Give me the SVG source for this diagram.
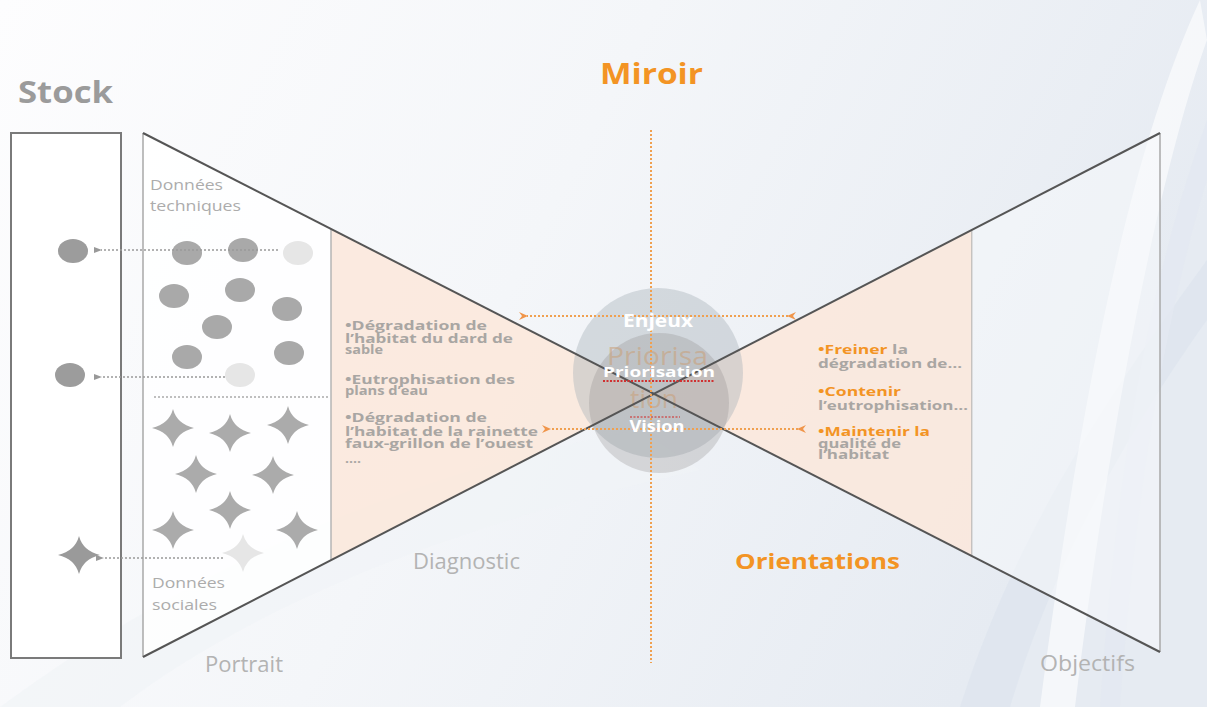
<svg xmlns="http://www.w3.org/2000/svg" width="1207" height="707" viewBox="0 0 1207 707">
<defs>
<linearGradient id="bg" x1="0" y1="0" x2="1" y2="0.3">
<stop offset="0" stop-color="#fdfdfe"/>
<stop offset="0.5" stop-color="#f4f6f9"/>
<stop offset="1" stop-color="#e6ebf2"/>
</linearGradient>
<path id="star" d="M0,-19 Q4,-4 21,0 Q4,4 0,19 Q-4,4 -21,0 Q-4,-4 0,-19Z"/>
<marker id="ga" markerWidth="8" markerHeight="8" refX="1" refY="4" orient="auto" markerUnits="userSpaceOnUse">
<path d="M8,1 L0,4 L8,7Z" fill="#999"/>
</marker>
<marker id="oaL" markerWidth="10" markerHeight="10" refX="1" refY="5" orient="auto" markerUnits="userSpaceOnUse">
<path d="M9,1 L0,5 L9,9 L6,5Z" fill="#f0954a"/>
</marker>
<marker id="oaR" markerWidth="10" markerHeight="10" refX="9" refY="5" orient="auto" markerUnits="userSpaceOnUse">
<path d="M1,1 L10,5 L1,9 L4,5Z" fill="#f0954a"/>
</marker>
<style>
.edge{stroke:#555;stroke-width:2;fill:none}
.pink{fill:#fbe8da;fill-opacity:0.85}
.dot{fill:#a9a9a9}
.dotS{fill:#9c9c9c}
.dotL{fill:#e6e6e6}
.garrow{stroke:#999;stroke-width:1.5;stroke-dasharray:2 2;fill:none}
.oline{stroke:#f0a050;stroke-width:2;stroke-dasharray:2 2;fill:none}
.h{font-family:"Open Sans","DejaVu Sans",sans-serif;font-weight:700}
.l{font-family:"Open Sans","DejaVu Sans",sans-serif;font-weight:400}
.g{fill:#a9a6a3}
.o{fill:#f39424}
.lst{font-family:"Open Sans","DejaVu Sans",sans-serif;font-weight:700;font-size:12.5px}
</style>
</defs>

<g id="background">
<rect x="0" y="0" width="1207" height="707" fill="url(#bg)"/>
<path d="M1207,260 C1120,380 1020,520 960,707 L1010,707 C1060,540 1150,400 1207,320Z" fill="#dde4ee" opacity="0.7"/>
<path d="M1200,0 C1130,150 1080,400 1040,707 L1075,707 C1110,420 1160,170 1207,40Z" fill="#ffffff" opacity="0.6"/>
<path d="M1207,120 C1160,250 1120,420 1100,707 L1120,707 C1140,430 1180,270 1207,180Z" fill="#e3e9f1" opacity="0.8"/>
<path d="M0,707 C200,560 420,470 640,430 L700,470 C470,520 260,600 120,707Z" fill="#f0f3f7" opacity="0.6"/>
</g>

<g id="stock">
<rect x="11" y="133" width="110" height="525" fill="#ffffff" stroke="#7a7a7a" stroke-width="2"/>
<text class="h" x="18" y="103" font-size="30" fill="#9b9b9b" textLength="95" lengthAdjust="spacingAndGlyphs">Stock</text>
<ellipse class="dotS" cx="73" cy="251" rx="15" ry="12"/>
<ellipse class="dotS" cx="70" cy="375" rx="15" ry="12"/>
<use href="#star" x="79" y="555" fill="#9a9a9a"/>
</g>

<g id="portrait">
<polygon points="143,133 331,229 331,560 143,657" fill="#ffffff" fill-opacity="0.85"/>
<line x1="143" y1="133" x2="143" y2="657" stroke="#a8a8a8" stroke-width="1.5"/>
<text class="l" x="150" y="190" font-size="14" fill="#acacac" textLength="73" lengthAdjust="spacingAndGlyphs">Données</text>
<text class="l" x="150" y="211" font-size="14" fill="#acacac" textLength="91" lengthAdjust="spacingAndGlyphs">techniques</text>
<ellipse class="dot" cx="187" cy="253" rx="15" ry="12"/>
<ellipse class="dot" cx="243" cy="250" rx="15" ry="12"/>
<ellipse class="dotL" cx="298" cy="253" rx="15" ry="12"/>
<ellipse class="dot" cx="174" cy="296" rx="15" ry="12"/>
<ellipse class="dot" cx="240" cy="290" rx="15" ry="12"/>
<ellipse class="dot" cx="287" cy="309" rx="15" ry="12"/>
<ellipse class="dot" cx="217" cy="327" rx="15" ry="12"/>
<ellipse class="dot" cx="187" cy="357" rx="15" ry="12"/>
<ellipse class="dot" cx="289" cy="353" rx="15" ry="12"/>
<ellipse class="dotL" cx="240" cy="375" rx="15" ry="12"/>
<line x1="154" y1="397" x2="330" y2="397" stroke="#aaa" stroke-width="1.5" stroke-dasharray="2 2"/>
<use href="#star" x="173" y="428" fill="#ababab"/>
<use href="#star" x="230" y="433" fill="#ababab"/>
<use href="#star" x="288" y="425" fill="#ababab"/>
<use href="#star" x="196" y="474" fill="#ababab"/>
<use href="#star" x="273" y="475" fill="#ababab"/>
<use href="#star" x="230" y="510" fill="#ababab"/>
<use href="#star" x="173" y="530" fill="#ababab"/>
<use href="#star" x="297" y="530" fill="#ababab"/>
<use href="#star" x="243" y="553" fill="#e6e6e6"/>
<text class="l" x="152" y="588" font-size="14" fill="#acacac" textLength="73" lengthAdjust="spacingAndGlyphs">Données</text>
<text class="l" x="152" y="610" font-size="14" fill="#acacac" textLength="65" lengthAdjust="spacingAndGlyphs">sociales</text>
<text class="l" x="205" y="672" font-size="21" fill="#b3b3b3" textLength="78" lengthAdjust="spacingAndGlyphs">Portrait</text>
</g>

<g id="diagnostic">
<polygon class="pink" points="331,229 654,394 331,560"/>
<line x1="331" y1="229" x2="331" y2="560" stroke="#b5b5b5" stroke-width="1.5"/>
<g class="lst g">
<text x="345" y="330" textLength="142" lengthAdjust="spacingAndGlyphs">•Dégradation de</text>
<text x="345" y="343" textLength="168" lengthAdjust="spacingAndGlyphs">l’habitat du dard de</text>
<text x="345" y="354" textLength="38" lengthAdjust="spacingAndGlyphs">sable</text>
<text x="345" y="384" textLength="170" lengthAdjust="spacingAndGlyphs">•Eutrophisation des</text>
<text x="345" y="395" textLength="83" lengthAdjust="spacingAndGlyphs">plans d’eau</text>
<text x="345" y="422" textLength="142" lengthAdjust="spacingAndGlyphs">•Dégradation de</text>
<text x="345" y="436" textLength="193" lengthAdjust="spacingAndGlyphs">l’habitat de la rainette</text>
<text x="345" y="448" textLength="188" lengthAdjust="spacingAndGlyphs">faux-grillon de l’ouest</text>
<text x="345" y="463" textLength="16" lengthAdjust="spacingAndGlyphs">....</text>
</g>
<text class="l" x="413" y="569" font-size="21" fill="#b3b3b3" textLength="107" lengthAdjust="spacingAndGlyphs">Diagnostic</text>
</g>

<g id="orientations">
<polygon class="pink" points="972,230 654,394 972,556"/>
<line x1="972" y1="230" x2="972" y2="556" stroke="#b5b5b5" stroke-width="1.5"/>
<g class="lst">
<text x="818" y="354" textLength="90" lengthAdjust="spacingAndGlyphs"><tspan class="o">•Freiner</tspan><tspan class="g"> la</tspan></text>
<text class="g" x="818" y="368" textLength="144" lengthAdjust="spacingAndGlyphs">dégradation de…</text>
<text class="o" x="818" y="396" textLength="83" lengthAdjust="spacingAndGlyphs">•Contenir</text>
<text class="g" x="818" y="410" textLength="150" lengthAdjust="spacingAndGlyphs">l’eutrophisation…</text>
<text class="o" x="818" y="436" textLength="112" lengthAdjust="spacingAndGlyphs">•Maintenir la</text>
<text class="g" x="818" y="448" textLength="83" lengthAdjust="spacingAndGlyphs">qualité de</text>
<text class="g" x="818" y="459" textLength="71" lengthAdjust="spacingAndGlyphs">l’habitat</text>
</g>
<text class="h o" x="735" y="569" font-size="22" textLength="165" lengthAdjust="spacingAndGlyphs">Orientations</text>
</g>

<g id="objectifs">
<polygon points="972,230 1160,133 1160,652 972,556" fill="#f7f9fb" fill-opacity="0.5"/>
<line x1="1160" y1="133" x2="1160" y2="652" stroke="#a8a8a8" stroke-width="1.5"/>
<text class="l" x="1040" y="671" font-size="21" fill="#b3b3b3" textLength="95" lengthAdjust="spacingAndGlyphs">Objectifs</text>
</g>

<g id="miroir">
<text class="h o" x="600" y="84" font-size="29" textLength="103" lengthAdjust="spacingAndGlyphs">Miroir</text>
</g>

<g id="center">
<circle cx="658" cy="373" r="85" fill="#aab2ba" fill-opacity="0.42"/>
<circle cx="659" cy="403" r="70" fill="#8c8a88" fill-opacity="0.28"/>
<text class="l" x="607" y="365" font-size="26" fill="#c9a27e" fill-opacity="0.6" textLength="101" lengthAdjust="spacingAndGlyphs">Priorisa</text>
<text class="l" x="630" y="408" font-size="26" fill="#c9a27e" fill-opacity="0.6" textLength="48" lengthAdjust="spacingAndGlyphs">tion</text>
<line x1="630" y1="417" x2="680" y2="417" stroke="#d04040" stroke-width="2" stroke-dasharray="2 1.5" opacity="0.6"/>
</g>

<g id="connectors">
<line class="edge" x1="143" y1="133" x2="1160" y2="652"/>
<line class="edge" x1="143" y1="657" x2="1160" y2="133"/>
<line class="oline" x1="651" y1="130" x2="651" y2="663"/>
<line class="oline" x1="788" y1="316" x2="527" y2="316" marker-start="url(#oaR)" marker-end="url(#oaL)"/>
<line class="oline" x1="798" y1="429" x2="550" y2="429" marker-start="url(#oaR)" marker-end="url(#oaL)"/>
<line class="garrow" x1="278" y1="250" x2="101" y2="250" marker-end="url(#ga)"/>
<line class="garrow" x1="225" y1="377" x2="101" y2="377" marker-end="url(#ga)"/>
<line class="garrow" x1="223" y1="558" x2="103" y2="558" marker-end="url(#ga)"/>
</g>

<g id="center-labels">
<text class="h" x="658" y="327" font-size="17" fill="#ffffff" text-anchor="middle" textLength="70" lengthAdjust="spacingAndGlyphs">Enjeux</text>
<text class="h" x="659" y="377" font-size="15" fill="#ffffff" text-anchor="middle" textLength="112" lengthAdjust="spacingAndGlyphs">Priorisation</text>
<line x1="603" y1="381" x2="715" y2="381" stroke="#d03030" stroke-width="2" stroke-dasharray="2 1.5"/>
<text class="h" x="657" y="432" font-size="16" fill="#ffffff" text-anchor="middle" textLength="55" lengthAdjust="spacingAndGlyphs">Vision</text>
</g>
</svg>
